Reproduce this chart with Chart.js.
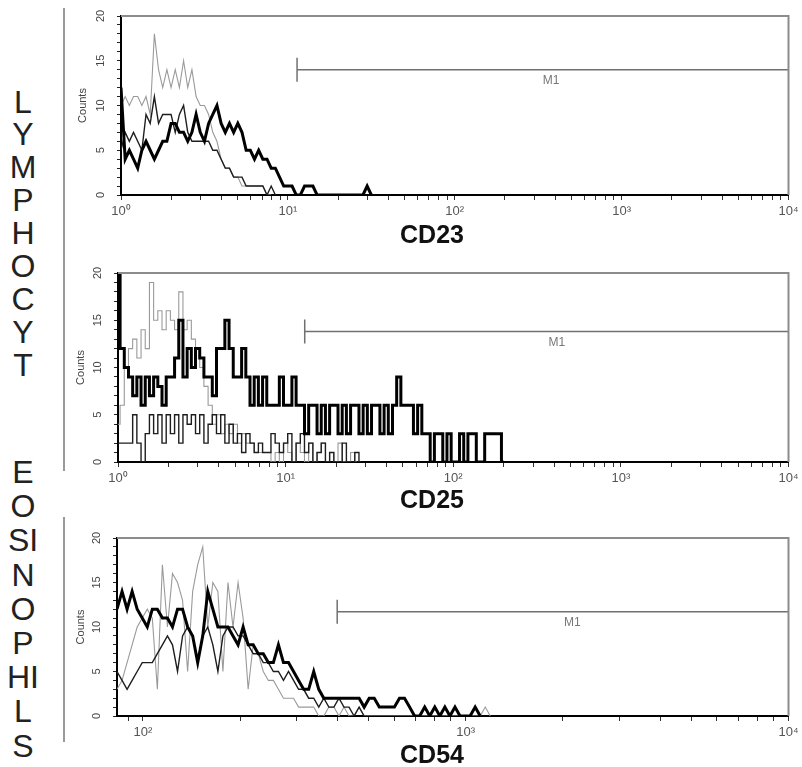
<!DOCTYPE html>
<html>
<head>
<meta charset="utf-8">
<script src="https://cdn.jsdelivr.net/npm/chart.js@4.4.1/dist/chart.umd.min.js"></script>
<style>
  body { margin: 0; background: #fff; }
  #page { position: relative; width: 802px; height: 767px; overflow: hidden;
          font-family: "Liberation Sans", Arial, Helvetica, sans-serif; }
  canvas { position: absolute; left: 0; }
  .cells { position: absolute; left: 4px; width: 38px; text-align: center; font-size: 32px; color: #222; }
  .marker { position: absolute; font-weight: bold; font-size: 25px; line-height: 1; color: #111;
            transform: translate(-50%, -50%); }
  .rule { position: absolute; left: 63px; width: 2px; background: #9a9a9a; }
</style>
</head>
<body>
<div id="page">
  <div class="rule" style="top:8px;height:463px"></div>
  <div class="rule" style="top:517px;height:225px"></div>
  <div class="cells" style="top:85.5px;line-height:32.9px">L<br>Y<br>M<br>P<br>H<br>O<br>C<br>Y<br>T</div>
  <div class="cells" style="top:455px;line-height:34.2px">E<br>O<br>SI<br>N<br>O<br>P<br>HI<br>L<br>S</div>

  <canvas id="cd23" width="802" height="220" style="top:0"></canvas>
  <canvas id="cd25" width="802" height="237" style="top:250px"></canvas>
  <canvas id="cd54" width="802" height="226" style="top:515px"></canvas>

  <div class="marker" style="left:432px;top:234px">CD23</div>
  <div class="marker" style="left:432px;top:499px">CD25</div>
  <div class="marker" style="left:432px;top:754px">CD54</div>
</div>

<script>
Chart.defaults.font.family = '"Liberation Sans", Arial, Helvetica, sans-serif';
Chart.defaults.animation = false;
Chart.defaults.plugins.legend.display = false;
Chart.defaults.plugins.tooltip.enabled = false;

const decadeLabels = {1: '10⁰', 10: '10¹', 100: '10²', 1000: '10³', 10000: '10⁴'};
const countLabels = [0, 5, 10, 15, 20];

// CD23: 40 channels per decade starting at 10^0
const cd23Thick = [12, 4, 5, 4, 3, 5, 6, 5, 4, 5, 6, 6, 8, 8, 7, 7, 6, 7, 9, 7,
  6, 8, 9, 10, 8, 7, 8, 7, 8, 7, 5, 5, 4, 5, 4, 4, 3, 3, 2, 1,
  1, 1, 0, 0, 1, 1, 1, 0, 0, 0, 0, 0, 0, 0, 0, 0, 0, 0, 0, 1, 0];
const cd23Medium = [5, 7, 6, 7, 6, 5, 9, 8, 11, 8, 9, 9, 9, 7, 9, 10, 7, 6, 6, 6,
  6, 6, 5, 5, 4, 3, 3, 2, 2, 2, 1, 1, 1, 1, 1, 0, 1, 0];
const cd23Light = [10, 11, 10, 11, 11, 10, 11, 9, 18, 14, 12, 14, 12, 14, 12, 15, 12, 14, 11, 10,
  10, 9, 7, 6, 4, 3, 3, 2, 2, 1, 1, 1, 1, 1, 1, 0, 0];

// CD25: 40 channels per decade starting at 10^0
const cd25Thick = [20, 12, 10, 9, 7, 9, 6, 9, 7, 9, 8, 6, 9, 9, 11, 15, 9, 12, 10, 12,
  11, 9, 9, 7, 12, 12, 15, 12, 9, 9, 12, 9, 6, 9, 6, 9, 6, 6, 6, 9,
  6, 6, 9, 6, 6, 3, 6, 6, 3, 6, 3, 6, 6, 3, 6, 3, 6, 6, 3, 6,
  3, 6, 6, 3, 6, 3, 6, 9, 6, 6, 6, 3, 6, 3, 3, 0, 3, 3, 0, 3,
  0, 0, 3, 0, 3, 3, 0, 0, 3, 3, 3, 3, 0];
const cd25Medium = [2, 2, 2, 2, 5, 2, 0, 3, 5, 3, 5, 2, 5, 3, 5, 2, 5, 4, 5, 3,
  5, 2, 4, 5, 3, 5, 2, 4, 2, 3, 1, 3, 2, 1, 2, 1, 1, 3, 2, 1,
  2, 3, 0, 2, 3, 1, 2, 0, 1, 2, 0, 1, 0, 0, 2, 0, 0, 1, 0];
const cd25Light = [4, 6, 10, 12, 13, 11, 14, 12, 19, 15, 16, 14, 16, 15, 14, 18, 14, 15, 13, 12,
  10, 8, 6, 4, 5, 3, 4, 3, 4, 2, 3, 2, 2, 1, 1, 1, 1, 0, 1, 0,
  2, 1, 0, 2, 1, 0, 2, 0, 1, 2, 0, 1, 0, 2, 0, 0, 1, 0];

// CD54: 64 channels per decade starting at 10^1.92
const cd54Thick = [12, 14, 12, 14, 12, 11, 10, 12, 12, 11, 11, 10, 12, 12, 10, 9, 6, 9, 14, 12,
  10, 10, 10, 9, 8, 10, 8, 8, 7, 7, 6, 6, 8, 6, 6, 5, 4, 3, 3, 5,
  3, 2, 2, 2, 2, 2, 2, 2, 2, 1, 2, 2, 1, 1, 1, 1, 2, 2, 1, 0,
  0, 1, 0, 1, 0, 1, 0, 1, 0, 0, 0, 1, 0];
const cd54Medium = [5, 4, 3, 4, 5, 6, 6, 6, 7, 8, 9, 8, 5, 9, 10, 9, 6, 9, 10, 8,
  5, 9, 10, 10, 9, 9, 8, 7, 7, 6, 6, 5, 5, 4, 5, 4, 3, 3, 2, 2,
  1, 2, 1, 1, 2, 1, 1, 0, 1, 0];
const cd54Light = [3, 4, 6, 8, 10, 11, 12, 11, 3, 17, 10, 16, 15, 13, 5, 14, 17, 19, 10, 15,
  14, 5, 15, 10, 15, 11, 3, 8, 7, 5, 4, 4, 3, 2, 2, 2, 1, 1, 1, 1,
  0, 0, 1, 1, 0, 1, 0, 0, 1, 0, 0, 0, 0, 0, 0, 0, 0, 0, 0, 0,
  0, 0, 0, 0, 0, 0, 0, 0, 0, 0, 0, 0, 0, 1, 0];

function toPoints(values, startLog, perDecade) {
  return values.map((v, i) => ({x: Math.pow(10, startLog + i / perDecade), y: v}));
}

function buildLogTicks(min, max) {
  let ticks = [];
  for (let e = 0; e < 4; e++) {
    for (let m = 1; m < 10; m++) {
      let v = m * Math.pow(10, e);
      if (v >= min && v <= max) ticks.push({value: v});
    }
  }
  ticks.push({value: 10000});
  return ticks;
}

// frame, rotated count labels and the gate name
const panelDecor = {
  id: 'panelDecor',
  afterDraw(chart, args, opts) {
    const {ctx, chartArea: a, scales: {x, y}} = chart;
    ctx.save();
    ctx.strokeStyle = '#8c8c8c';
    ctx.lineWidth = 2;
    ctx.beginPath();
    ctx.moveTo(a.left, a.top);
    ctx.lineTo(a.right, a.top);
    ctx.lineTo(a.right, a.bottom);
    ctx.stroke();

    ctx.fillStyle = '#444';
    ctx.font = '11px "Liberation Sans", Arial, sans-serif';
    ctx.textAlign = 'center';
    ctx.textBaseline = 'middle';
    countLabels.forEach(v => {
      ctx.save();
      ctx.translate(a.left - 20, y.getPixelForValue(v));
      ctx.rotate(-Math.PI / 2);
      ctx.fillText(String(v), 0, 0);
      ctx.restore();
    });

    ctx.fillStyle = '#777';
    ctx.font = '12px "Liberation Sans", Arial, sans-serif';
    ctx.fillText(opts.gateName, x.getPixelForValue(opts.labelAt), y.getPixelForValue(opts.gateLevel) + 11);
    ctx.restore();
  }
};

function histogram(values, startLog, perDecade, color, width, order, stepped) {
  return {
    data: toPoints(values, startLog, perDecade),
    borderColor: color,
    borderWidth: width,
    pointRadius: 0,
    stepped: stepped,
    order: order
  };
}

function drawPanel(id, cfg) {
  let datasets = [
    histogram(cfg.thick, cfg.startLog, cfg.perDecade, '#000', 3, 0, cfg.stepped),
    histogram(cfg.medium, cfg.startLog, cfg.perDecade, '#1e1e1e', 1.4, 1, cfg.stepped),
    histogram(cfg.light, cfg.startLog, cfg.perDecade, '#9a9a9a', 1.1, 2, cfg.stepped),
    {
      data: [{x: cfg.gateStart, y: cfg.gateLevel}, {x: cfg.xMax, y: cfg.gateLevel}],
      borderColor: '#707070',
      borderWidth: 1.5,
      pointStyle: 'line',
      pointRotation: 90,
      pointRadius: ctx => ctx.dataIndex === 0 ? 12 : 0,
      pointBorderColor: '#707070',
      pointBorderWidth: 1.5,
      order: 3
    }
  ];

  new Chart(id, {
    type: 'line',
    data: {datasets},
    options: {
      responsive: false,
      devicePixelRatio: 1,
      layout: {padding: {left: cfg.padLeft, right: 5, top: cfg.padTop, bottom: 0}},
      scales: {
        x: {
          type: 'logarithmic',
          min: cfg.xMin,
          max: cfg.xMax,
          afterBuildTicks: scale => { scale.ticks = buildLogTicks(cfg.xMin, cfg.xMax); },
          ticks: {
            autoSkip: false,
            maxRotation: 0,
            minRotation: 0,
            padding: 4,
            color: '#555',
            font: {size: 13},
            callback: v => decadeLabels[v] || ''
          },
          grid: {drawOnChartArea: false, tickLength: 5, color: '#333'},
          border: {color: '#000', width: 2},
          afterFit: scale => { scale.height = 25; scale.paddingLeft = 0; scale.paddingRight = 0; }
        },
        y: {
          min: 0,
          max: 20,
          ticks: {stepSize: 1, display: false},
          grid: {drawOnChartArea: false, tickLength: 4, color: '#222'},
          border: {color: '#000', width: 2},
          title: {display: true, text: 'Counts', color: '#444', font: {size: 11}, padding: 0},
          afterFit: scale => { scale.width = cfg.yWidth; scale.paddingTop = 0; scale.paddingBottom = 0; }
        }
      },
      plugins: {
        panelDecor: {gateName: 'M1', gateLevel: cfg.gateLevel, labelAt: cfg.labelAt}
      }
    },
    plugins: [panelDecor]
  });
}

drawPanel('cd23', {
  thick: cd23Thick, medium: cd23Medium, light: cd23Light,
  startLog: 0, perDecade: 40, stepped: false,
  xMin: 1, xMax: 10000,
  gateStart: 11.35, gateLevel: 14, labelAt: 378,
  padLeft: 76, yWidth: 45, padTop: 16
});

drawPanel('cd25', {
  thick: cd25Thick, medium: cd25Medium, light: cd25Light,
  startLog: 0, perDecade: 40, stepped: 'middle',
  xMin: 1, xMax: 10000,
  gateStart: 13, gateLevel: 13.8, labelAt: 415,
  padLeft: 74.4, yWidth: 43.6, padTop: 23
});

drawPanel('cd54', {
  thick: cd54Thick, medium: cd54Medium, light: cd54Light,
  startLog: 1.92, perDecade: 64, stepped: false,
  xMin: Math.pow(10, 1.92), xMax: 10000,
  gateStart: 400, gateLevel: 11.7, labelAt: 2140,
  padLeft: 74.4, yWidth: 42.6, padTop: 23
});
</script>
</body>
</html>
